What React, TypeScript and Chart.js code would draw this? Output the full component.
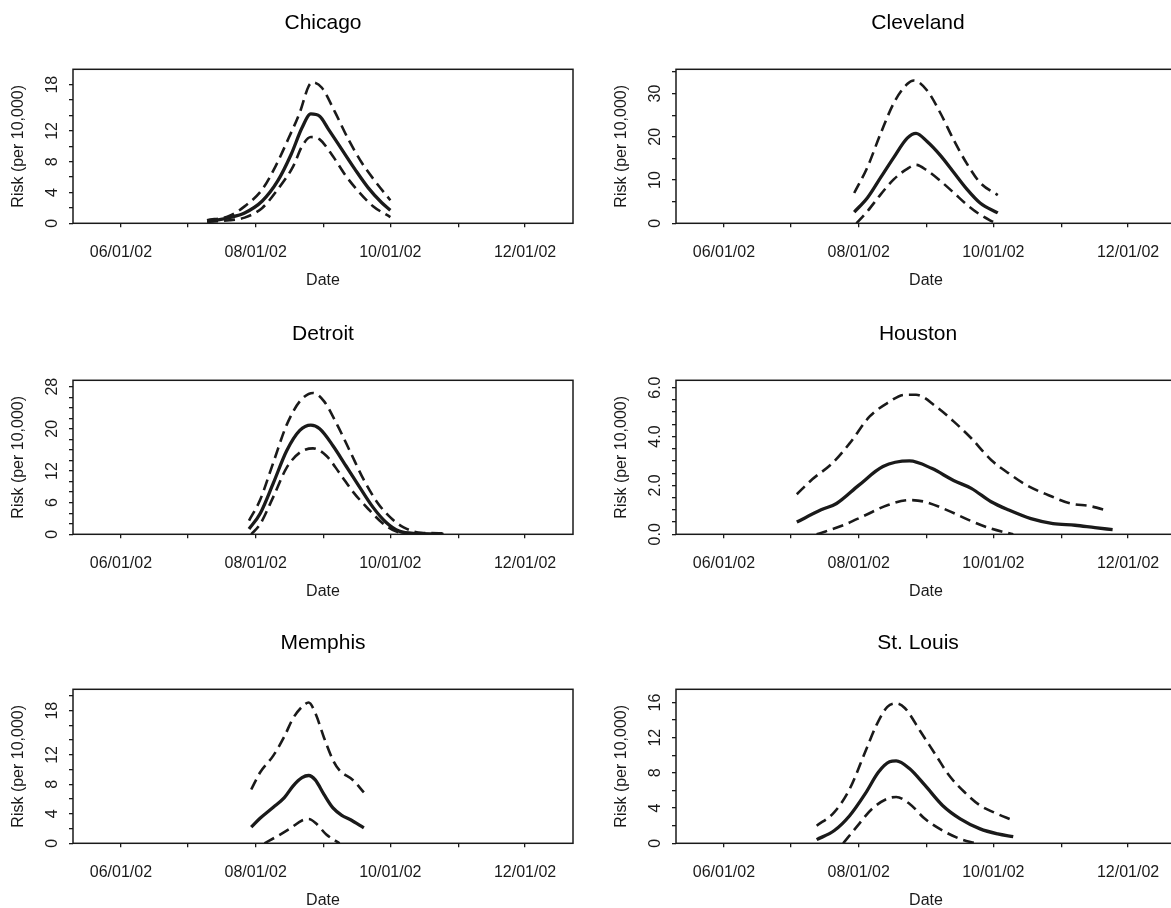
import React, { useEffect, useRef } from "react";
import { Chart, registerables } from "chart.js";

Chart.register(...registerables);

const FONT = "'Liberation Sans', Arial, Helvetica, sans-serif";
const INK = "#1a1a1a";

// x axis: day of year 2002
const monthTickDays = [152, 182, 213, 244, 274, 305, 335];
const monthTickLabels = ["06/01/02", "", "08/01/02", "", "10/01/02", "", "12/01/02"];
const xMinDay = 130.3;
const xMaxDay = 356.7;

// Chicago
const chicagoEstDays = [191, 196, 201, 208, 216, 223, 229, 234, 238, 242, 246, 252, 258, 264, 270, 274];
const chicagoEst = [0.3, 0.45, 0.74, 1.35, 2.9, 5.5, 8.9, 12.4, 14.2, 13.9, 12.2, 9.6, 7.0, 4.6, 2.7, 1.7];
const chicagoUpDays = [191, 201, 208, 216, 222, 228, 233, 237, 239, 243, 249, 255, 261, 267, 274];
const chicagoUp = [0.4, 0.95, 2.2, 4.4, 7.4, 11.1, 14.4, 17.8, 18.3, 17.6, 14.4, 10.9, 7.9, 5.5, 3.0];
const chicagoLoDays = [191, 201, 208, 216, 223, 230, 234, 238, 242, 248, 254, 260, 266, 274];
const chicagoLo = [0.2, 0.4, 0.74, 2.0, 4.4, 7.4, 10.0, 11.2, 10.9, 8.7, 6.1, 4.0, 2.25, 0.8];
const chicagoYLabels = [0, 4, 8, 12, 18];

// Cleveland
const clevelandEstDays = [211, 217, 223, 229, 235, 239, 244, 250, 256, 262, 268, 276];
const clevelandEst = [2.6, 5.9, 10.6, 15.3, 19.7, 20.8, 18.9, 15.7, 11.8, 7.9, 4.7, 2.4];
const clevelandUpDays = [211, 217, 223, 229, 235, 238, 244, 250, 256, 262, 268, 276];
const clevelandUp = [7.0, 13.0, 20.8, 27.9, 32.2, 33.0, 30.7, 25.5, 19.3, 13.8, 9.4, 6.5];
const clevelandLoDays = [212, 217, 223, 229, 235, 239, 244, 250, 256, 262, 268, 275];
const clevelandLo = [0, 2.8, 6.7, 10.2, 12.6, 13.5, 12.2, 9.8, 7.1, 4.3, 2.0, 0];
const clevelandYLabels = [0, 10, 20, 30];

// Detroit
const detroitEstDays = [210, 215, 221, 227, 233, 238, 242, 248, 254, 260, 266, 272, 278, 286, 298];
const detroitEst = [1.0, 3.9, 9.7, 15.8, 19.7, 20.7, 20.0, 16.8, 12.9, 9.0, 5.2, 2.3, 0.6, 0.15, 0.05];
const detroitUpDays = [210, 215, 221, 227, 233, 239, 244, 250, 256, 262, 268, 274, 280, 288, 298];
const detroitUp = [2.6, 6.5, 13.6, 20.7, 25.2, 26.8, 25.2, 20.7, 15.5, 10.3, 6.1, 3.2, 1.3, 0.3, 0.2];
const detroitLoDays = [211, 215, 221, 227, 233, 239, 245, 251, 257, 264, 270, 276, 282, 298];
const detroitLo = [0, 1.9, 7.1, 12.6, 15.5, 16.3, 14.9, 11.6, 8.1, 4.8, 2.3, 0.65, 0.13, 0];
const detroitYLabels = [0, 6, 12, 20, 28];

// Houston
const houstonEstDays = [185, 196, 203, 213, 224, 236, 246, 256, 264, 273, 281, 291, 301, 311, 320, 328];
const houstonEst = [0.5, 1.0, 1.26, 2.0, 2.77, 3.0, 2.7, 2.2, 1.88, 1.33, 0.99, 0.64, 0.44, 0.37, 0.27, 0.19];
const houstonUpDays = [185, 192, 201, 209, 218, 226, 234, 239, 248, 256, 264, 273, 281, 289, 299, 309, 318, 326];
const houstonUp = [1.64, 2.25, 2.9, 3.73, 4.82, 5.37, 5.71, 5.71, 5.23, 4.62, 3.93, 3.04, 2.49, 2.01, 1.6, 1.26, 1.15, 0.96];
const houstonLoDays = [194, 206, 216, 226, 236, 243, 253, 263, 273, 283];
const houstonLo = [0, 0.37, 0.78, 1.19, 1.4, 1.33, 0.99, 0.58, 0.23, 0];
const houstonYLabels = [0, 2, 4, 6];

// Memphis
const memphisEstDays = [211, 215, 221, 226, 230, 234, 237, 240, 244, 248, 252, 256, 262];
const memphisEst = [2.2, 3.4, 4.9, 6.2, 7.8, 8.9, 9.2, 8.6, 6.6, 4.8, 3.8, 3.2, 2.1];
const memphisUpDays = [211, 215, 221, 226, 230, 235, 237, 240, 244, 248, 251, 257, 262];
const memphisUp = [7.3, 9.6, 11.9, 14.5, 17.0, 18.8, 19.1, 17.7, 14.3, 11.3, 9.9, 8.6, 6.9];
const memphisLoDays = [217, 223, 229, 234, 237, 240, 245, 251];
const memphisLo = [0, 1.0, 2.1, 3.1, 3.3, 2.8, 1.2, 0];
const memphisYLabels = [0, 4, 8, 12, 18];

// St. Louis
const stlouisEstDays = [194, 202, 209, 216, 222, 227, 230, 236, 243, 251, 259, 268, 276, 283];
const stlouisEst = [0.42, 1.45, 3.16, 5.64, 8.1, 9.26, 9.37, 8.5, 6.6, 4.3, 2.78, 1.64, 1.07, 0.76];
const stlouisUpDays = [194, 202, 209, 216, 221, 226, 230, 234, 241, 248, 254, 261, 268, 274, 283];
const stlouisUp = [2.0, 3.54, 6.2, 10.4, 13.4, 15.5, 15.9, 15.35, 12.7, 10.0, 7.7, 5.8, 4.3, 3.54, 2.6];
const stlouisLoDays = [206, 212, 219, 226, 230, 236, 243, 251, 259, 266];
const stlouisLo = [0, 1.83, 3.9, 5.07, 5.26, 4.5, 2.78, 1.45, 0.5, 0];
const stlouisYLabels = [0, 4, 8, 12, 16];

type Series = [number[], number[]];
type Panel = {
  title: string;
  est: Series;
  up: Series;
  lo: Series;
  yMax: number;
  yStep: number;
  yTop: number;
  yLabels: number[];
  decimals: number;
};

const panels: Panel[] = [
  { title: "Chicago", est: [chicagoEstDays, chicagoEst], up: [chicagoUpDays, chicagoUp], lo: [chicagoLoDays, chicagoLo], yMax: 20, yStep: 2, yTop: 18, yLabels: chicagoYLabels, decimals: 0 },
  { title: "Cleveland", est: [clevelandEstDays, clevelandEst], up: [clevelandUpDays, clevelandUp], lo: [clevelandLoDays, clevelandLo], yMax: 35.6, yStep: 5, yTop: 35, yLabels: clevelandYLabels, decimals: 0 },
  { title: "Detroit", est: [detroitEstDays, detroitEst], up: [detroitUpDays, detroitUp], lo: [detroitLoDays, detroitLo], yMax: 29.2, yStep: 2, yTop: 28, yLabels: detroitYLabels, decimals: 0 },
  { title: "Houston", est: [houstonEstDays, houstonEst], up: [houstonUpDays, houstonUp], lo: [houstonLoDays, houstonLo], yMax: 6.3, yStep: 0.5, yTop: 6, yLabels: houstonYLabels, decimals: 1 },
  { title: "Memphis", est: [memphisEstDays, memphisEst], up: [memphisUpDays, memphisUp], lo: [memphisLoDays, memphisLo], yMax: 20.9, yStep: 2, yTop: 20, yLabels: memphisYLabels, decimals: 0 },
  { title: "St. Louis", est: [stlouisEstDays, stlouisEst], up: [stlouisUpDays, stlouisUp], lo: [stlouisLoDays, stlouisLo], yMax: 17.5, yStep: 2, yTop: 16, yLabels: stlouisYLabels, decimals: 0 },
];

// layout
const COL_LEFT = [0, 603];
const COL_TITLE_SHIFT = [0, -8];
const ROW_TOP = [0, 311, 620];
const ROW_H = [311, 309, 288];
const CANVAS_W = 590;
const Y_AXIS_W = 73;
const PLOT_W = 500;
const PLOT_TOP = 69.3;
const PLOT_H = 154;
const TITLE_SIZE = 21;
const TITLE_CENTER = 23;
const TICK_LABEL_CENTER = 29.2; // below plot bottom
const DATE_CENTER = 57.5; // below plot bottom

const framePlugin = {
  id: "frame",
  afterDraw(chart: any, _args: any, opts: any) {
    const { ctx, chartArea: a } = chart;
    ctx.save();
    ctx.strokeStyle = INK;
    ctx.lineWidth = 1.5;
    ctx.strokeRect(a.left, a.top, a.right - a.left, a.bottom - a.top);
    // panel title
    ctx.fillStyle = "#000";
    ctx.font = `${TITLE_SIZE}px ${FONT}`;
    ctx.textAlign = "center";
    ctx.textBaseline = "middle";
    ctx.fillText(opts.title || "", (a.left + a.right) / 2 + (opts.shift || 0), a.top - (PLOT_TOP - TITLE_CENTER));
    // rotated y tick labels
    const ys = chart.scales.y;
    ctx.fillStyle = INK;
    ctx.font = `16px ${FONT}`;
    const labels: number[] = opts.labels || [];
    for (const v of labels) {
      const py = ys.getPixelForValue(v);
      ctx.save();
      ctx.translate(a.left - 20, py);
      ctx.rotate(-Math.PI / 2);
      ctx.fillText(v.toFixed(opts.decimals || 0), 0, 0);
      ctx.restore();
    }
    ctx.restore();
  },
};

function toPoints(s: Series) {
  return s[0].map((d, i) => ({ x: d, y: s[1][i] }));
}

function makeChart(canvas: HTMLCanvasElement, p: Panel, canvasH: number, shift: number) {
  const plotBottom = PLOT_TOP + PLOT_H;
  const xH = canvasH - plotBottom;
  const tickLen = 4;
  const tickPad = TICK_LABEL_CENTER - tickLen - (16 * 1.2) / 2;
  const datePadBottom = xH - DATE_CENTER - (16 * 1.2) / 2;

  const common = {
    borderColor: INK,
    pointRadius: 0,
    fill: false,
    cubicInterpolationMode: "monotone" as const,
    borderCapStyle: "butt" as const,
  };

  return new Chart(canvas, {
    type: "line",
    data: {
      datasets: [
        { ...common, data: toPoints(p.up), borderWidth: 2.6, borderDash: [11, 6] },
        { ...common, data: toPoints(p.lo), borderWidth: 2.6, borderDash: [11, 6] },
        { ...common, data: toPoints(p.est), borderWidth: 3.3 },
      ],
    },
    options: {
      animation: false,
      responsive: false,
      maintainAspectRatio: false,
      devicePixelRatio: 1,
      layout: { padding: { left: 0, top: PLOT_TOP, bottom: 0, right: CANVAS_W - Y_AXIS_W - PLOT_W } },
      plugins: {
        legend: { display: false },
        tooltip: { enabled: false },
        title: { display: false },
        frame: { labels: p.yLabels, decimals: p.decimals, title: p.title, shift },
      } as any,
      scales: {
        x: {
          type: "linear",
          min: xMinDay,
          max: xMaxDay,
          afterBuildTicks: (scale: any) => {
            scale.ticks = monthTickDays.map((v) => ({ value: v }));
          },
          afterFit: (scale: any) => {
            scale.height = xH;
          },
          ticks: {
            autoSkip: false,
            maxRotation: 0,
            minRotation: 0,
            padding: tickPad,
            color: INK,
            font: { family: FONT, size: 16 },
            callback: (value: any) => {
              const i = monthTickDays.indexOf(Number(value));
              return i >= 0 ? monthTickLabels[i] : "";
            },
          },
          grid: { drawOnChartArea: false, drawTicks: true, tickLength: tickLen, color: INK, lineWidth: 1.3 },
          border: { display: false },
          title: {
            display: true,
            text: "Date",
            color: INK,
            font: { family: FONT, size: 16 },
            padding: { top: 0, bottom: datePadBottom },
          },
        },
        y: {
          type: "linear",
          min: 0,
          max: p.yMax,
          afterBuildTicks: (scale: any) => {
            const t: { value: number }[] = [];
            const n = Math.round(p.yTop / p.yStep);
            for (let i = 0; i <= n; i++) t.push({ value: i * p.yStep });
            scale.ticks = t;
          },
          afterFit: (scale: any) => {
            scale.width = Y_AXIS_W;
          },
          ticks: { display: false, autoSkip: false },
          grid: { drawOnChartArea: false, drawTicks: true, tickLength: 4, color: INK, lineWidth: 1.3 },
          border: { display: false },
          title: {
            display: true,
            text: "Risk (per 10,000)",
            color: INK,
            font: { family: FONT, size: 16 },
            padding: { top: 8.7, bottom: 0 },
          },
        },
      },
    },
    plugins: [framePlugin],
  } as any);
}

function PanelChart({ panel, index }: { panel: Panel; index: number }) {
  const ref = useRef<HTMLCanvasElement | null>(null);
  const col = index % 2;
  const row = Math.floor(index / 2);
  const h = ROW_H[row];
  const shift = COL_TITLE_SHIFT[col];
  useEffect(() => {
    if (!ref.current) return;
    const chart = makeChart(ref.current, panel, h, shift);
    return () => chart.destroy();
  }, [panel, h, shift]);
  return (
    <div style={{ position: "absolute", left: COL_LEFT[col], top: ROW_TOP[row], width: CANVAS_W, height: h }}>
      <canvas ref={ref} width={CANVAS_W} height={h} style={{ width: CANVAS_W, height: h, display: "block" }} />
    </div>
  );
}

export default function App() {
  return (
    <div
      style={{
        position: "fixed",
        left: 0,
        top: 0,
        width: 1171,
        height: 908,
        overflow: "hidden",
        background: "#fff",
      }}
    >
      {panels.map((p, i) => (
        <PanelChart key={p.title} panel={p} index={i} />
      ))}
    </div>
  );
}
